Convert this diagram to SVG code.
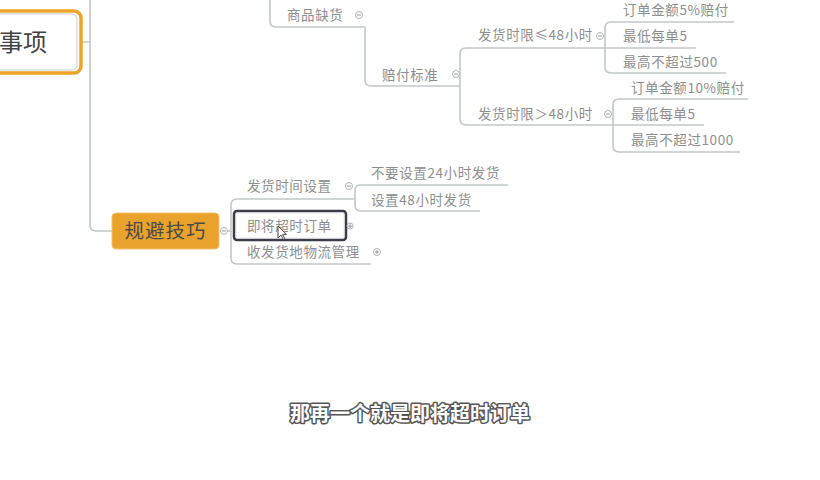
<svg xmlns="http://www.w3.org/2000/svg" width="820" height="480" viewBox="0 0 820 480">
<style>
.ln{fill:none;stroke:#c3c7c7;stroke-width:1.6}
.t{font-family:"Noto Sans CJK SC","Liberation Sans",sans-serif;font-size:13.5px;fill:#8e8e8e;letter-spacing:0.6px}
.c{fill:#fff;stroke:#b0b4b4;stroke-width:1}
.cm{stroke:#9a9a9a;stroke-width:1}
</style>
<rect width="820" height="480" fill="#fff"/>
<g id="connectors">
<path class="ln" d="M82 42 H90"/>
<path class="ln" d="M90 0 V225 Q90 231 96 231 H112"/>
<path class="ln" d="M270 0 V21 Q270 27 276 27 H365"/>
<path class="ln" d="M365 27 V80 Q365 86 371 86 H460"/>
<path class="ln" d="M460 86 V54 Q460 48 466 48 H696"/>
<path class="ln" d="M460 86 V119 Q460 125 466 125 H613"/>
<path class="ln" d="M605 48 V28 Q605 22 611 22 H734"/>
<path class="ln" d="M605 48 V67 Q605 73 611 73 H726"/>
<path class="ln" d="M613 125 V105 Q613 99 619 99 H748"/>
<path class="ln" d="M613 125 H704"/>
<path class="ln" d="M613 125 V146 Q613 152 619 152 H740"/>
<path class="ln" d="M220 231 H231"/>
<path class="ln" d="M231 231 V205 Q231 199 237 199 H355"/>
<path class="ln" d="M231 231 V258 Q231 264 237 264 H371"/>
<path class="ln" d="M355 199 V190 Q355 185 361 185 H508"/>
<path class="ln" d="M355 199 V205 Q355 211 361 211 H480"/>
</g>
<g id="main">
<rect x="-20" y="11" width="101" height="62" rx="7" fill="#fff" stroke="#eba429" stroke-width="3.5"/>
<rect x="-20" y="14" width="97" height="56" rx="5" fill="none" stroke="#c8cccc" stroke-width="1"/>
<text x="-1" y="51" font-family="'Noto Sans CJK SC','Liberation Sans',sans-serif" font-size="24" fill="#444">事项</text>
</g>
<g id="n-shangpin">
<text class="t" x="287" y="20">商品缺货</text>
<circle class="c" cx="359" cy="15" r="3.5"/><path class="cm" d="M357 15 H361"/>
</g>
<g id="n-peifu">
<text class="t" x="382" y="80">赔付标准</text>
<circle class="c" cx="456" cy="74" r="3.5"/><path class="cm" d="M454 74 H458"/>
</g>
<g id="n-le48">
<text class="t" x="478" y="40">发货时限≤48小时</text>
<circle class="c" cx="600" cy="36" r="3.5"/><path class="cm" d="M598 36 H602"/>
</g>
<g id="n-gt48">
<text class="t" x="478" y="119">发货时限＞48小时</text>
<circle class="c" cx="608" cy="114" r="3.5"/><path class="cm" d="M606 114 H610"/>
</g>
<g id="n-5pct"><text class="t" x="623" y="15">订单金额5%赔付</text></g>
<g id="n-min5a"><text class="t" x="623" y="41">最低每单5</text></g>
<g id="n-max500"><text class="t" x="623" y="67">最高不超过500</text></g>
<g id="n-10pct"><text class="t" x="631" y="93">订单金额10%赔付</text></g>
<g id="n-min5b"><text class="t" x="631" y="119">最低每单5</text></g>
<g id="n-max1000"><text class="t" x="631" y="145">最高不超过1000</text></g>
<g id="n-guibi">
<rect x="112" y="213" width="107" height="36" rx="4" fill="#e9a22b" stroke="#f0c070" stroke-width="1"/>
<text x="165.5" y="238" text-anchor="middle" font-family="'Noto Sans CJK SC','Liberation Sans',sans-serif" font-size="19.5" fill="#4a4a4a" letter-spacing="1">规避技巧</text>
<circle class="c" cx="224" cy="231" r="3.5"/><path class="cm" d="M222 231 H226"/>
</g>
<g id="n-fahuo">
<text class="t" x="247" y="191">发货时间设置</text>
<circle class="c" cx="349" cy="186" r="3.5"/><path class="cm" d="M347 186 H351"/>
</g>
<g id="n-no24"><text class="t" x="371" y="178">不要设置24小时发货</text></g>
<g id="n-48"><text class="t" x="371" y="205">设置48小时发货</text></g>
<g id="n-jijiang">
<rect x="234" y="211" width="112" height="29" rx="3" fill="#fff" stroke="#3c3c46" stroke-width="2.5"/>
<rect x="236" y="213" width="108" height="25" rx="2" fill="none" stroke="#cfcfd4" stroke-width="0.8" stroke-dasharray="1 1"/>
<text class="t" x="247" y="231">即将超时订单</text>
<circle class="c" cx="350" cy="226" r="3"/><path class="cm" d="M348 226 H352 M350 224 V228"/>
</g>
<g id="n-shoufa">
<text class="t" x="247" y="257">收发货地物流管理</text>
<circle class="c" cx="377" cy="252" r="3.5"/><path class="cm" d="M375 252 H379 M377 250 V254"/>
</g>
<path d="M278 226 V238 L281 235 L283.5 240 L285 239.3 L282.6 234.4 L286.5 234.4 Z" fill="#fff" stroke="#333" stroke-width="0.9"/>
<text x="410" y="421" text-anchor="middle" font-family="'Noto Sans CJK SC','Liberation Sans',sans-serif" font-size="20" font-weight="bold" fill="#fff" stroke="#555" stroke-width="3" paint-order="stroke" stroke-linejoin="round">那再一个就是即将超时订单</text>
</svg>
